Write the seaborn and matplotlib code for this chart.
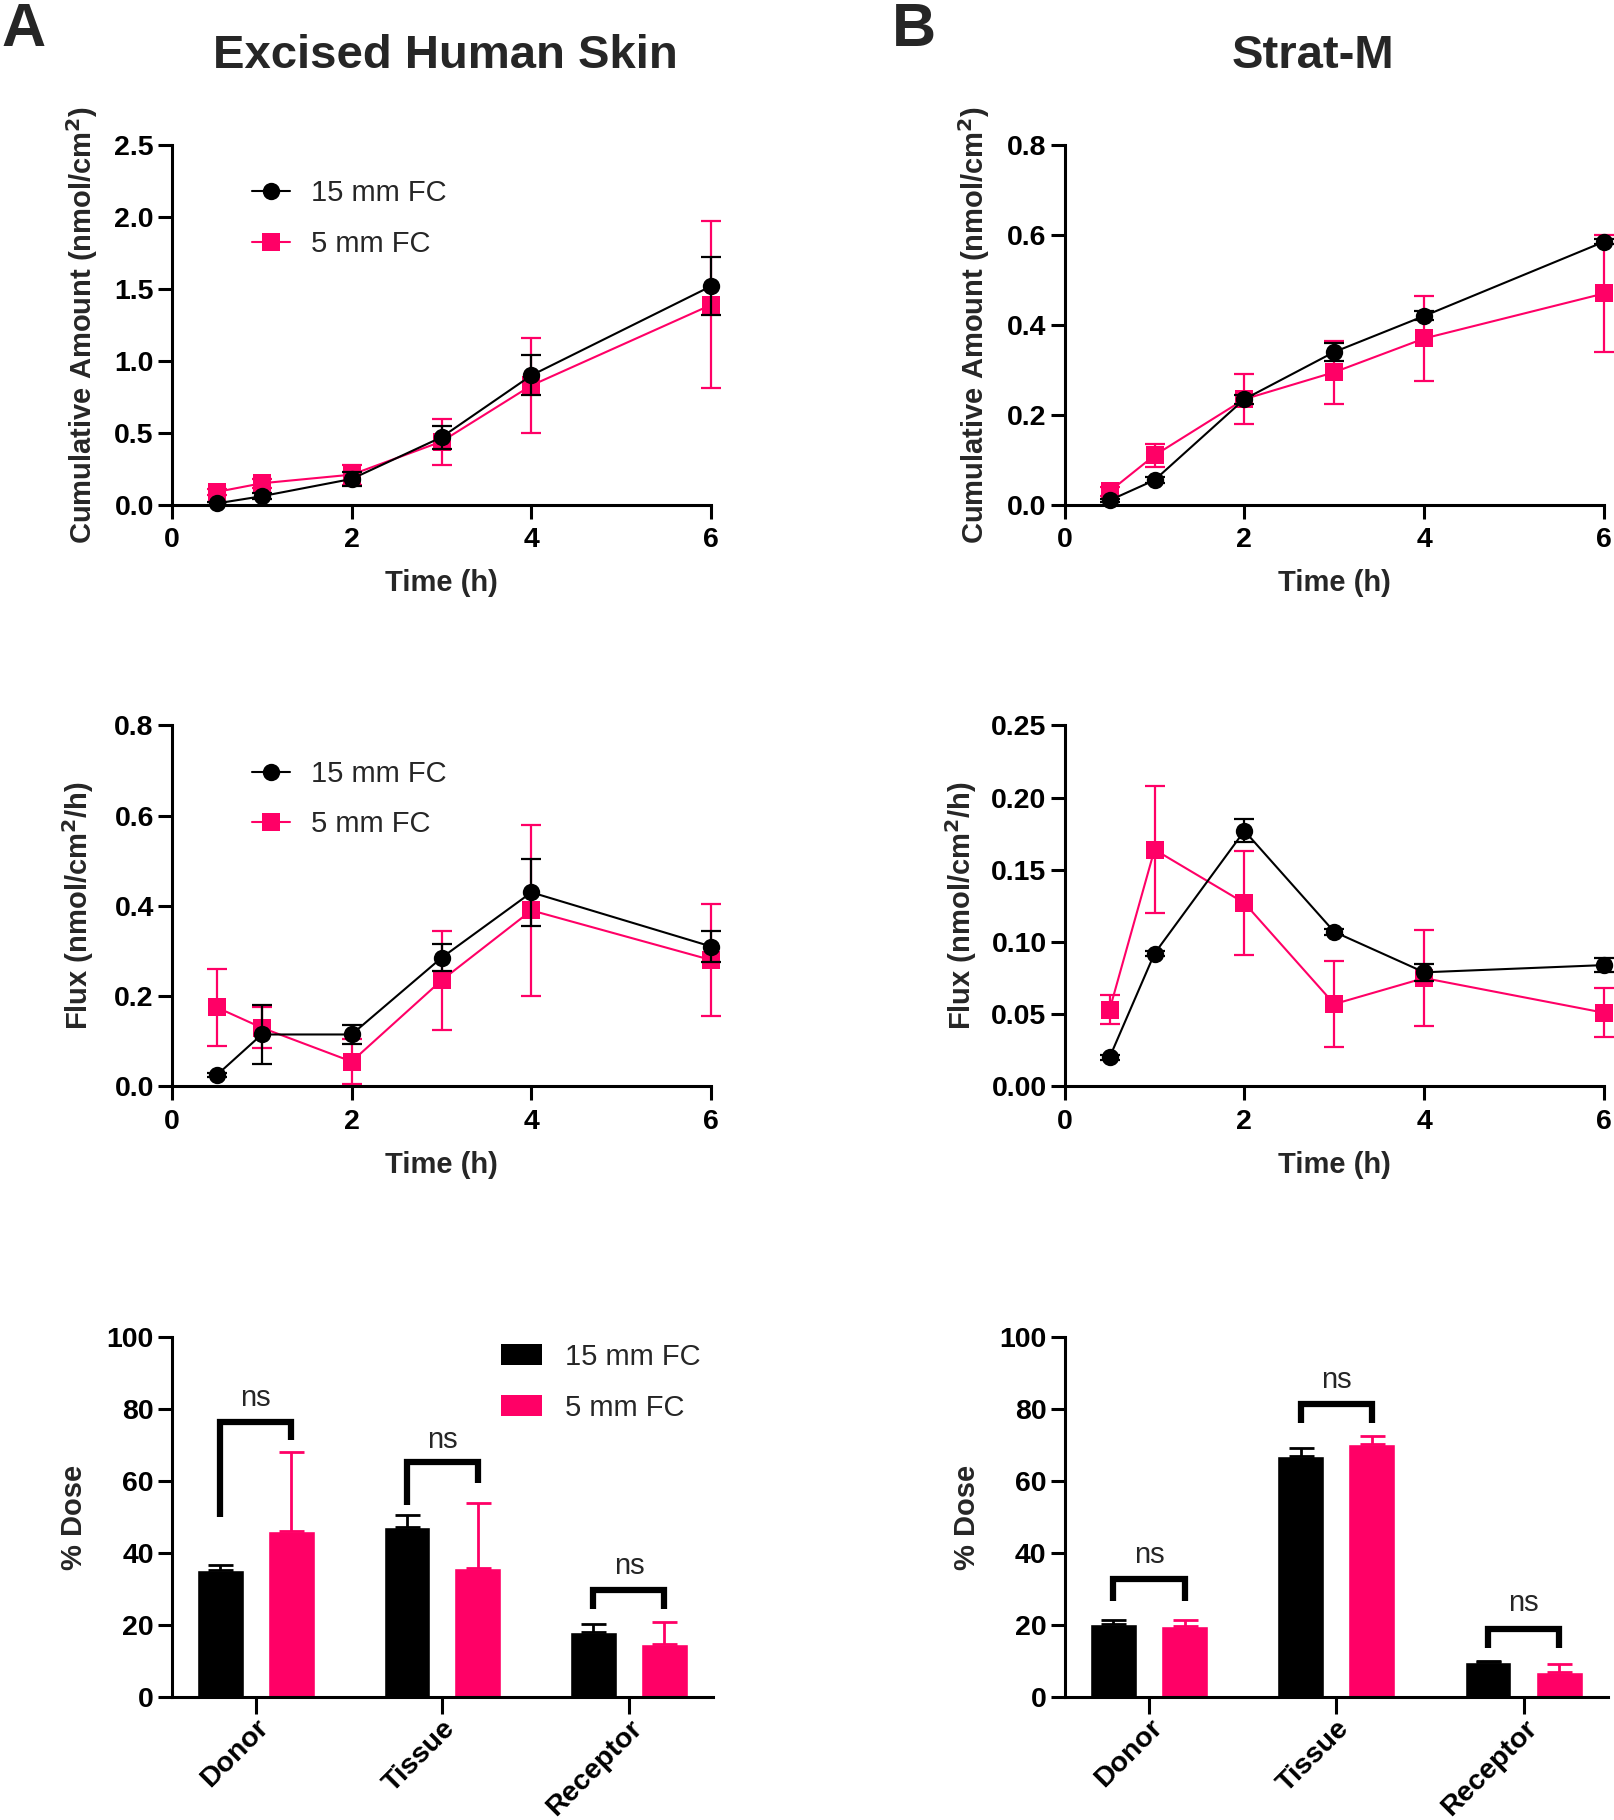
#!/usr/bin/env python3
"""Permeation of excised human skin vs Strat-M: cumulative amount, flux and mass balance."""
import matplotlib
matplotlib.use("Agg")
import matplotlib.pyplot as plt
import numpy as np
import pandas as pd
import seaborn as sns
from matplotlib.lines import Line2D
from matplotlib.patches import Patch
from matplotlib.ticker import FormatStrFormatter

GROUPS = ["15 mm FC", "5 mm FC"]
TIME_H = [0.5, 1, 2, 3, 4, 6]
CATEGORIES = ["Donor", "Tissue", "Receptor"]

# A: excised human skin
HS_CUM_15 = [0.01, 0.06, 0.18, 0.47, 0.90, 1.52]
HS_CUM_15_SD = [0.01, 0.02, 0.05, 0.08, 0.14, 0.20]
HS_CUM_5 = [0.09, 0.15, 0.21, 0.44, 0.83, 1.39]
HS_CUM_5_SD = [0.02, 0.03, 0.07, 0.16, 0.33, 0.58]
HS_FLUX_15 = [0.025, 0.115, 0.115, 0.285, 0.43, 0.31]
HS_FLUX_15_SD = [0.005, 0.065, 0.02, 0.03, 0.075, 0.035]
HS_FLUX_5 = [0.175, 0.13, 0.055, 0.235, 0.39, 0.28]
HS_FLUX_5_SD = [0.085, 0.045, 0.05, 0.11, 0.19, 0.125]
HS_DOSE_15 = [35.2, 47.2, 18.0]
HS_DOSE_15_SD = [1.4, 3.3, 2.4]
HS_DOSE_5 = [46.2, 35.9, 14.6]
HS_DOSE_5_SD = [22.0, 18.0, 6.2]

# B: Strat-M
SM_CUM_15 = [0.01, 0.055, 0.235, 0.34, 0.42, 0.585]
SM_CUM_15_SD = [0.004, 0.006, 0.01, 0.02, 0.01, 0.006]
SM_CUM_5 = [0.03, 0.11, 0.235, 0.295, 0.37, 0.47]
SM_CUM_5_SD = [0.01, 0.025, 0.055, 0.07, 0.095, 0.13]
SM_FLUX_15 = [0.020, 0.092, 0.177, 0.107, 0.079, 0.084]
SM_FLUX_15_SD = [0.002, 0.002, 0.008, 0.002, 0.006, 0.005]
SM_FLUX_5 = [0.053, 0.164, 0.127, 0.057, 0.075, 0.051]
SM_FLUX_5_SD = [0.01, 0.044, 0.036, 0.03, 0.033, 0.017]
SM_DOSE_15 = [20.4, 66.9, 9.6]
SM_DOSE_15_SD = [1.0, 2.2, 0.3]
SM_DOSE_5 = [19.7, 70.2, 7.0]
SM_DOSE_5_SD = [1.6, 2.4, 2.1]

# significance brackets per category: (bar top, left leg end, right leg end, label y)
HS_BRACKETS = [(76.5, 50.0, 71.5, 83.0), (65.3, 53.3, 59.5, 71.5), (29.7, 24.5, 24.5, 36.5)]
SM_BRACKETS = [(32.8, 26.8, 26.8, 39.5), (81.3, 76.2, 76.2, 88.0), (18.9, 13.6, 13.6, 26.0)]

COLORS = {"15 mm FC": "#000000", "5 mm FC": "#FF0066"}
MARKERS = {"15 mm FC": "o", "5 mm FC": "s"}

TICK_FS = 20.5
LABEL_FS = 21
SPINE_W = 2.2
MS = 12.5


def style_axes(ax):
    sns.despine(ax=ax)
    for side in ("left", "bottom"):
        ax.spines[side].set_linewidth(SPINE_W)
    ax.tick_params(width=SPINE_W, length=10, labelsize=TICK_FS)
    ax.tick_params(axis="y", pad=3)
    ax.tick_params(axis="x", pad=6)


def line_panel(ax, m15, s15, m5, s5, ylim, ystep, fmt, ylabel, ylab_x, legend):
    df = pd.DataFrame({
        "t": TIME_H * 2,
        "v": m15 + m5,
        "g": [GROUPS[0]] * len(TIME_H) + [GROUPS[1]] * len(TIME_H),
    })
    sns.lineplot(data=df, x="t", y="v", hue="g", style="g", hue_order=GROUPS,
                 style_order=GROUPS, palette=COLORS, markers=MARKERS, dashes=False,
                 markersize=MS, markeredgewidth=0, linewidth=1.5, legend=False,
                 clip_on=False, ax=ax)
    for ln in ax.lines:
        ln.set_zorder(4 if ln.get_color() in ("#000000", "k", "black") else 3)
    for g, m, s, z in ((GROUPS[1], m5, s5, 2.5), (GROUPS[0], m15, s15, 3.5)):
        eb = ax.errorbar(TIME_H, m, yerr=s, fmt="none", ecolor=COLORS[g],
                         elinewidth=1.6, capsize=7, capthick=1.6, zorder=z)
        for art in eb.lines[1] + eb.lines[2]:
            art.set_clip_on(False)
    ax.set_xlim(0, 6)
    ax.set_xticks([0, 2, 4, 6])
    ax.set_ylim(*ylim)
    ax.set_yticks(np.arange(ylim[0], ylim[1] + ystep / 2, ystep))
    ax.yaxis.set_major_formatter(FormatStrFormatter(fmt))
    ax.set_xlabel("Time (h)", fontsize=LABEL_FS)
    ax.set_ylabel(ylabel, fontsize=LABEL_FS)
    ax.xaxis.set_label_coords(0.5, -0.178)
    ax.yaxis.set_label_coords(ylab_x, 0.5)
    style_axes(ax)
    if legend:
        handles = [Line2D([], [], color=COLORS[g], marker=MARKERS[g], markersize=MS,
                          markeredgewidth=0, linewidth=1.5) for g in GROUPS]
        ax.legend(handles, GROUPS, loc="upper left", bbox_to_anchor=(0.148, 0.905),
                  frameon=False, borderpad=0, borderaxespad=0, handlelength=1.3,
                  handletextpad=0.75, labelspacing=0.78,
                  prop={"size": LABEL_FS, "weight": "normal"})


def bar_panel(ax, m15, s15, m5, s5, brackets, ylab_x, legend):
    df = pd.DataFrame({
        "cat": CATEGORIES * 2,
        "v": m15 + m5,
        "g": [GROUPS[0]] * len(CATEGORIES) + [GROUPS[1]] * len(CATEGORIES),
    })
    sns.barplot(data=df, x="cat", y="v", hue="g", order=CATEGORIES, hue_order=GROUPS,
                palette=COLORS, errorbar=None, width=0.76, gap=0.34, saturation=1,
                legend=False, ax=ax)
    centers = []
    for cont, g, m, s in zip(ax.containers, GROUPS, (m15, m5), (s15, s5)):
        xc = [b.get_x() + b.get_width() / 2 for b in cont]
        centers.append(xc)
        ax.errorbar(xc, m, yerr=[np.zeros(len(s)), s], fmt="none", ecolor=COLORS[g],
                    elinewidth=2, capsize=9, capthick=2, zorder=1)
    for i, (top, lo_l, lo_r, ytxt) in enumerate(brackets):
        xl, xr = centers[0][i], centers[1][i]
        ax.plot([xl, xl, xr, xr], [lo_l, top, top, lo_r], color="black", lw=4.5,
                solid_joinstyle="miter", solid_capstyle="butt", zorder=5)
        ax.text((xl + xr) / 2, ytxt, "ns", ha="center", va="center",
                fontsize=LABEL_FS, fontweight="normal")
    ax.set_xlim(-0.45, 2.45)
    ax.set_ylim(0, 100)
    ax.set_yticks(range(0, 101, 20))
    ax.set_xlabel("")
    ax.set_ylabel("% Dose", fontsize=LABEL_FS)
    ax.yaxis.set_label_coords(ylab_x, 0.5)
    style_axes(ax)
    ax.tick_params(axis="x", length=12, pad=1)
    for lab in ax.get_xticklabels():
        lab.set_rotation(45)
        lab.set_ha("right")
        lab.set_va("top")
        lab.set_rotation_mode("anchor")
    if legend:
        handles = [Patch(facecolor=COLORS[g], edgecolor="none") for g in GROUPS]
        ax.legend(handles, GROUPS, loc="upper left", bbox_to_anchor=(0.608, 0.985),
                  frameon=False, borderpad=0, borderaxespad=0, handlelength=1.4,
                  handleheight=0.75, handletextpad=0.8, labelspacing=0.8,
                  prop={"size": LABEL_FS, "weight": "normal"})


def main():
    sns.set_theme(style="ticks")
    plt.rcParams["font.family"] = ["Liberation Sans", "DejaVu Sans"]
    plt.rcParams["font.weight"] = "bold"
    plt.rcParams["axes.labelweight"] = "bold"
    plt.rcParams["xtick.color"] = "black"
    plt.rcParams["ytick.color"] = "black"
    plt.rcParams["axes.edgecolor"] = "black"

    fig = plt.figure(figsize=(16.15, 18.2), dpi=100)
    left_x, right_x, w = 0.1064, 0.6592, 0.3340
    rows = [(0.7226, 0.1977), (0.4031, 0.1983), (0.0676, 0.1977)]

    ax = fig.add_axes([left_x, rows[0][0], w, rows[0][1]])
    line_panel(ax, HS_CUM_15, HS_CUM_15_SD, HS_CUM_5, HS_CUM_5_SD, (0, 2.5), 0.5, "%.1f",
               "Cumulative Amount (nmol/cm$^{\\mathbf{2}}$)", -0.134, True)
    ax = fig.add_axes([right_x, rows[0][0], w, rows[0][1]])
    line_panel(ax, SM_CUM_15, SM_CUM_15_SD, SM_CUM_5, SM_CUM_5_SD, (0, 0.8), 0.2, "%.1f",
               "Cumulative Amount (nmol/cm$^{\\mathbf{2}}$)", -0.135, False)

    ax = fig.add_axes([left_x, rows[1][0], w, rows[1][1]])
    line_panel(ax, HS_FLUX_15, HS_FLUX_15_SD, HS_FLUX_5, HS_FLUX_5_SD, (0, 0.8), 0.2, "%.1f",
               "Flux (nmol/cm$^{\\mathbf{2}}$/h)", -0.140, True)
    ax = fig.add_axes([right_x, rows[1][0], w, rows[1][1]])
    line_panel(ax, SM_FLUX_15, SM_FLUX_15_SD, SM_FLUX_5, SM_FLUX_5_SD, (0, 0.25), 0.05, "%.2f",
               "Flux (nmol/cm$^{\\mathbf{2}}$/h)", -0.159, False)

    ax = fig.add_axes([left_x, rows[2][0], 0.3350, rows[2][1]])
    bar_panel(ax, HS_DOSE_15, HS_DOSE_15_SD, HS_DOSE_5, HS_DOSE_5_SD, HS_BRACKETS, -0.155, True)
    ax = fig.add_axes([right_x, rows[2][0], 0.3364, rows[2][1]])
    bar_panel(ax, SM_DOSE_15, SM_DOSE_15_SD, SM_DOSE_5, SM_DOSE_5_SD, SM_BRACKETS, -0.153, False)

    fig.text(0.001, 0.999, "A", fontsize=44, fontweight="bold", ha="left", va="top")
    fig.text(0.552, 0.999, "B", fontsize=44, fontweight="bold", ha="left", va="top")
    fig.text(0.276, 0.969, "Excised Human Skin", fontsize=34, fontweight="bold",
             ha="center", va="center")
    fig.text(0.813, 0.969, "Strat-M", fontsize=34, fontweight="bold",
             ha="center", va="center")

    fig.savefig("out.png", dpi=100)


if __name__ == "__main__":
    main()
